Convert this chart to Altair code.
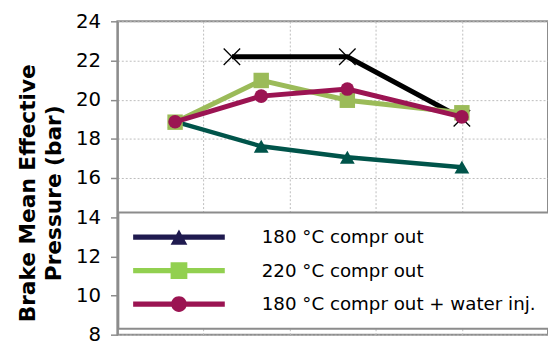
import altair as alt
import pandas as pd

# x positions (no x labels in the original)
xs = [0.67, 1.67, 2.67, 4.0]
teal_y = [18.88, 17.62, 17.06, 16.55]      # triangles (legend: 180 °C compr out)
green_y = [18.85, 20.98, 19.97, 19.33]     # squares (220 °C compr out)
maroon_y = [18.87, 20.18, 20.54, 19.12]    # circles (180 °C compr out + water inj.)
black_x = [1.33, 2.67, 4.0]
black_y = [22.19, 22.19, 19.05]            # black crosses (not in legend)

names = ["180 °C compr out", "220 °C compr out", "180 °C compr out + water inj."]
y_ticks = [8, 10, 12, 14, 16, 18, 20, 22, 24]
x_grid = [1, 2, 3, 4]

rows = []
for n, ys in zip(names, [teal_y, green_y, maroon_y]):
    for x, y in zip(xs, ys):
        rows.append({"series": n, "x": x, "y": y})
for x, y in zip(black_x, black_y):
    rows.append({"series": "black", "x": x, "y": y})
df = pd.DataFrame(rows)

xscale = alt.Scale(domain=[0, 5], nice=False, zero=False)
yscale = alt.Scale(domain=[8, 24], nice=False, zero=False)

xenc = alt.X("x:Q", scale=xscale,
             axis=alt.Axis(values=x_grid, labels=False, ticks=False, domain=False,
                           grid=True, gridColor="#bdbdbd", gridDash=[2, 2], gridWidth=1,
                           title=None))
yenc = alt.Y("y:Q", scale=yscale,
             axis=alt.Axis(values=y_ticks, grid=True, gridColor="#bdbdbd", gridDash=[2, 2],
                           gridWidth=1, domainColor="#8c8c8c", domainWidth=2,
                           tickColor="#8c8c8c", tickSize=7, tickWidth=1.5,
                           labelFont="DejaVu Sans", labelFontSize=20, labelColor="black",
                           labelPadding=10,
                           title=["Brake Mean Effective", "Pressure (bar)"],
                           titleFont="DejaVu Sans", titleFontWeight="bold",
                           titleFontSize=22, titleLineHeight=27, titleColor="black",
                           titlePadding=10, titleY=174))

base = alt.Chart(df)


def series_layers(name, color, width, shape, size, filled=True, stroke_w=0):
    d = base.transform_filter(alt.datum.series == name)
    line = d.mark_line(color=color, strokeWidth=width).encode(x=xenc, y=yenc)
    if filled:
        pts = d.mark_point(shape=shape, filled=True, color=color, size=size,
                           opacity=1).encode(x=xenc, y=yenc)
    else:
        pts = d.mark_point(shape=shape, filled=False, color=color, size=size,
                           strokeWidth=stroke_w, opacity=1).encode(x=xenc, y=yenc)
    return [line, pts]


layers = []
layers += series_layers("black", "black", 5, "M-1,-1L1,1M-1,1L1,-1", 280, filled=False, stroke_w=1.3)
layers += series_layers(names[0], "#00544a", 4.5, "triangle-up", 225)
layers += series_layers(names[1], "#9bbb59", 5, "square", 245)
layers += series_layers(names[2], "#9b1452", 5, "circle", 190)

# legend-only layer (invisible points, legend built from its scales)
leg_paths = [
    "M-4.65,-0.27H4.65V0.27H-4.65Z M0,-0.77L0.85,0.77H-0.85Z",
    "M-4.65,-0.27H4.65V0.27H-4.65Z M-0.85,-0.85H0.85V0.85H-0.85Z",
    "M-4.65,-0.27H4.65V0.27H-4.65Z M-0.8,0A0.8,0.8 0 1,1 0.8,0A0.8,0.8 0 1,1 -0.8,0Z",
]
leg_colors = ["#1f1a4f", "#92d050", "#9b1452"]
legend = alt.Legend(orient="none", legendX=1, legendY=194, title=None, padding=15,
                    strokeColor="#8c8c8c", fillColor="white",
                    symbolSize=400, symbolStrokeWidth=0, symbolOffset=36.5,
                    labelOffset=74, labelLimit=500, rowPadding=14, symbolOpacity=1,
                    labelFont="DejaVu Sans", labelFontSize=18.5, labelColor="black")
leg_layer = base.transform_filter(alt.datum.series != "black").mark_point(
    filled=True, opacity=0).encode(
    x=xenc, y=yenc,
    color=alt.Color("series:N", scale=alt.Scale(domain=names, range=leg_colors), legend=legend),
    shape=alt.Shape("series:N", scale=alt.Scale(domain=names, range=leg_paths), legend=legend),
)
layers.append(leg_layer)

chart = alt.layer(*layers).properties(
    width=437, height=318,
    autosize=alt.AutoSizeParams(type="none"),
    padding={"left": 111, "top": 11, "right": 0, "bottom": 10},
).configure_view(stroke="#8c8c8c", strokeWidth=2).configure_legend(strokeWidth=2)

chart.save("out.html", embed_options={"renderer": "svg", "actions": False})
